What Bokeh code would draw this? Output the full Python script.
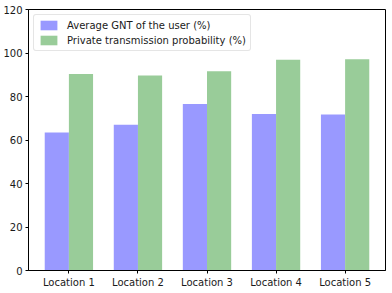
from bokeh.plotting import figure
from bokeh.models import FixedTicker, Legend, LegendItem, ColumnDataSource
from bokeh.embed import file_html
from bokeh.resources import INLINE
import numpy as np

categories = ["Location 1", "Location 2", "Location 3", "Location 4", "Location 5"]
avg_gnt = [63.4, 67.0, 76.6, 72.0, 71.7]
private_prob = [90.4, 89.7, 91.6, 96.9, 97.1]
y_ticks = [0, 20, 40, 60, 80, 100, 120]
series_names = ["Average GNT of the user (%)", "Private transmission probability (%)"]

FONT = "DejaVu Sans"
bar_w = 0.35
idx = np.arange(len(categories))

p = figure(width=392, height=290, output_backend="svg", toolbar_location=None,
           x_range=(-0.585, 4.585), y_range=(0, 120),
           min_border_left=28, min_border_right=7, min_border_top=9, min_border_bottom=20)

src1 = ColumnDataSource(dict(x=idx - bar_w / 2, top=avg_gnt))
src2 = ColumnDataSource(dict(x=idx + bar_w / 2, top=private_prob))
r1 = p.vbar(x="x", top="top", width=bar_w, bottom=0, source=src1,
            fill_color="#9999ff", line_color=None)
r2 = p.vbar(x="x", top="top", width=bar_w, bottom=0, source=src2,
            fill_color="#99cc99", line_color=None)

p.xgrid.visible = False
p.ygrid.visible = False
p.outline_line_color = "black"
p.outline_line_width = 1

p.xaxis.ticker = FixedTicker(ticks=list(idx))
p.xaxis.major_label_overrides = {int(i): c for i, c in zip(idx, categories)}
p.yaxis.ticker = FixedTicker(ticks=y_ticks)
for ax in (p.xaxis[0], p.yaxis[0]):
    ax.axis_line_color = "black"
    ax.major_tick_line_color = "black"
    ax.minor_tick_line_color = None
    ax.major_tick_in = 0
    ax.major_tick_out = 3
    ax.major_label_standoff = 3
    ax.major_label_text_font = FONT
    ax.major_label_text_font_size = "10px"
    ax.major_label_text_color = "#1a1a1a"

legend = Legend(items=[LegendItem(label=series_names[0], renderers=[r1]),
                       LegendItem(label=series_names[1], renderers=[r2])],
                location="top_left")
legend.margin = 5
legend.padding = 4
legend.spacing = 3
legend.glyph_width = 21
legend.glyph_height = 12
legend.label_standoff = 8
legend.label_text_font = FONT
legend.label_text_font_size = "10px"
legend.label_text_color = "#1a1a1a"
legend.label_height = 12
legend.border_line_color = "#cccccc"
legend.border_line_width = 1
legend.background_fill_alpha = 0.8
legend.border_radius = 3
p.add_layout(legend)

open("out.html", "w").write(file_html(p, INLINE))
